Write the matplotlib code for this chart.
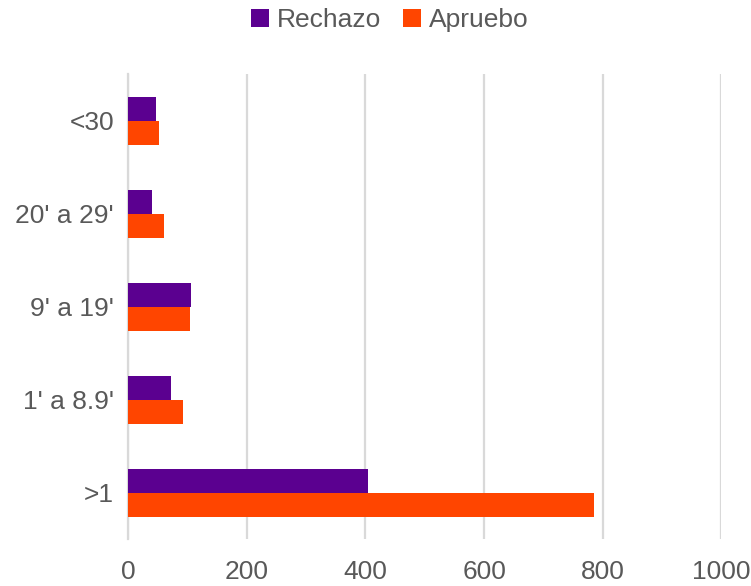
import matplotlib.pyplot as plt
import numpy as np

# Datos
categorias = ['<30', "20' a 29'", "9' a 19'", "1' a 8.9'", '>1']
rechazo = [48, 40, 106, 72, 405]
apruebo = [52, 60, 104, 93, 786]
ticks_x = [0, 200, 400, 600, 800, 1000]

plt.rcParams['font.family'] = ['Liberation Sans', 'DejaVu Sans']

gris = '#595959'
fig = plt.figure(figsize=(7.51, 5.86), dpi=100)
ax = fig.add_axes([0.1704, 0.0794, 0.7903, 0.7935])

y = np.arange(len(categorias))
h = 0.263
ax.barh(y - h / 2, rechazo, height=h, color='#5B0090', label='Rechazo', zorder=3)
ax.barh(y + h / 2, apruebo, height=h, color='#FF4500', label='Apruebo', zorder=3)

ax.set_ylim(len(categorias) - 0.5, -0.5)
ax.set_xlim(0, 1000)
ax.set_yticks(y)
ax.set_yticklabels(categorias)
ax.set_xticks(ticks_x)
ax.grid(axis='x', color='#D9D9D9', linewidth=1.6, zorder=0)
ax.tick_params(axis='both', length=0, labelsize=19, colors=gris)
ax.tick_params(axis='x', pad=15)
ax.tick_params(axis='y', pad=10)
for s in ['top', 'right', 'bottom']:
    ax.spines[s].set_visible(False)
ax.spines['left'].set_color('#D9D9D9')
ax.spines['left'].set_linewidth(1.6)

ax.legend(loc='center', bbox_to_anchor=(0.441, 1.117), ncol=2, frameon=False,
          fontsize=19, labelcolor=gris, handlelength=0.7, handleheight=0.7,
          handletextpad=0.3, columnspacing=0.8)

fig.savefig('out.png', dpi=100)
